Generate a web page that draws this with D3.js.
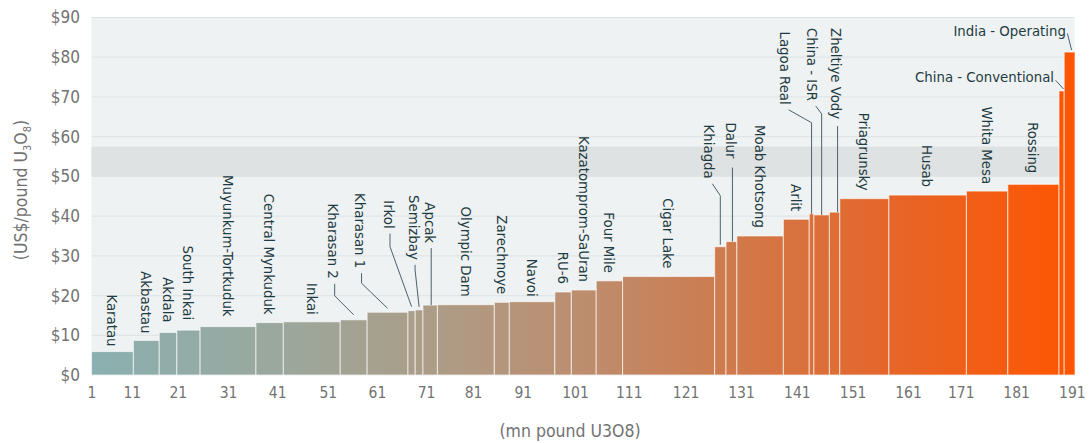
<!DOCTYPE html>
<html>
<head>
<meta charset="utf-8">
<script src="https://cdn.jsdelivr.net/npm/d3@7"></script>
<style>
  html, body { margin: 0; padding: 0; background: #ffffff; }
  svg { display: block; }
  text { font-family: "Liberation Sans Narrow", "DejaVu Sans Condensed", "Roboto", sans-serif; }
</style>
</head>
<body>
<svg id="chart" width="1092" height="443"></svg>
<script>
// ---------------- data ----------------
const mines = ["Karatau","Akbastau","Akdala","South Inkai","Muyunkum-Tortkuduk","Central Mynkuduk","Inkai",
  "Kharasan 2","Kharasan 1","Irkol","Semizbay","Apcak","Olympic Dam","Zarechnoye","Navoi","RU-6",
  "Kazatomprom-SaUran","Four Mile","Cigar Lake","Khiagda","Dalur","Moab Khotsong","Arlit","Lagoa Real",
  "China - ISR","Zheltiye Vody","Priagrunsky","Husab","Whita Mesa","Rossing","China - Conventional","India - Operating"];
// production (mn pound U3O8) = bar width
const production = [8.1,5.0,3.4,4.5,10.8,5.3,11.0,5.2,7.9,1.4,1.5,2.8,11.0,2.9,8.8,3.2,4.8,5.1,17.8,2.2,2.1,9.0,5.0,0.9,3.0,2.0,9.5,15.0,8.0,9.9,1.0,2.1];
// cost (US$/pound U3O8) = bar height
const cost = [5.9,8.7,10.7,11.3,12.2,13.2,13.4,13.9,15.8,16.2,16.4,17.6,17.7,18.3,18.45,20.9,21.4,23.7,24.8,32.3,33.6,35.0,39.2,40.6,40.3,41.0,44.4,45.3,46.3,48.0,71.5,81.3];
const yTicks = [0,10,20,30,40,50,60,70,80,90];
const xTickLabels = ["1","11","21","31","41","51","61","71","81","91","101","111","121","131","141","151","161","171","181","191"];
const xTickAt = [1,8.8,17.7,27.4,36.9,46.7,56.2,65.7,74.8,84.4,94.5,104.9,115.9,126.6,137.4,148.2,158.9,169.1,179.8,190.6];
const priceBand = [50, 57.5];
const xStart = 1;

// ---------------- layout ----------------
const plot = {left: 91.5, right: 1074.5, top: 17.5, bottom: 375};
const svg = d3.select("#chart");
const FONT = '"Liberation Sans Narrow", "DejaVu Sans Condensed", sans-serif';

const x = d3.scaleLinear().domain([1, 191]).range([plot.left, 1074]);
const y = d3.scaleLinear().domain([0, 90]).range([plot.bottom, plot.top]);

let cum = xStart;
const bars = mines.map((m, i) => {
  const d = {name: m, x0: cum, x1: cum + production[i], v: cost[i]};
  cum += production[i];
  return d;
});

const defs = svg.append("defs");
const grad = defs.append("linearGradient").attr("id", "barGrad")
  .attr("gradientUnits", "userSpaceOnUse")
  .attr("x1", plot.left).attr("x2", plot.right).attr("y1", 0).attr("y2", 0);
[[0,"#8ab0b1"],[0.2,"#9ca79c"],[0.35,"#ad9c86"],[0.5,"#bd8d6f"],[0.65,"#cf7a4c"],[0.8,"#e4672c"],[1,"#ff5500"]]
  .forEach(s => grad.append("stop").attr("offset", s[0]).attr("stop-color", s[1]));

svg.append("rect").attr("x", plot.left).attr("y", y(90)).attr("width", plot.right - plot.left)
  .attr("height", y(0) - y(90)).attr("fill", "#eef2f3");

svg.append("g").selectAll("line").data(yTicks).join("line")
  .attr("x1", plot.left).attr("x2", plot.right)
  .attr("y1", d => y(d)).attr("y2", d => y(d))
  .attr("stroke", d => d === 90 ? "#dde2e4" : "#e0e5e7").attr("stroke-width", 1.2);

svg.append("rect").attr("x", plot.left).attr("width", plot.right - plot.left)
  .attr("y", y(priceBand[1])).attr("height", y(priceBand[0]) - y(priceBand[1]))
  .attr("fill", "#dfe2e3");

svg.append("g").selectAll("rect").data(bars).join("rect")
  .attr("x", d => x(d.x0)).attr("width", d => x(d.x1) - x(d.x0))
  .attr("y", d => y(d.v)).attr("height", d => y(0) - y(d.v))
  .attr("fill", "url(#barGrad)")
  .attr("stroke", "rgba(255,255,255,0.6)").attr("stroke-width", 1.1);

const yAxis = d3.axisLeft(y).tickValues(yTicks).tickFormat(d => "$" + d).tickSize(0).tickPadding(0);
const gy = svg.append("g").attr("transform", `translate(80,0)`).call(yAxis);
gy.select(".domain").remove();
gy.selectAll("text").attr("font-size", 17).attr("fill", "#727272").style("font-family", FONT);

const xAxis = d3.axisBottom(x).tickValues(xTickAt).tickFormat((d, i) => xTickLabels[i]).tickSize(0).tickPadding(0);
const gx = svg.append("g").attr("transform", `translate(0,387)`).call(xAxis);
gx.select(".domain").remove();
gx.selectAll("text").attr("font-size", 15.5).attr("fill", "#727272").style("font-family", FONT);

svg.append("text").attr("x", 570).attr("y", 437).attr("text-anchor", "middle")
  .attr("font-size", 17.5).attr("fill", "#727272").text("(mn pound U3O8)");
const yt = svg.append("text").attr("transform", "translate(27,190) rotate(-90)")
  .attr("text-anchor", "middle").attr("font-size", 17.5).attr("fill", "#727272");
yt.append("tspan").text("(US$/pound U");
yt.append("tspan").attr("font-size", 11).attr("dy", 4).text("3");
yt.append("tspan").attr("dy", -4).text("O");
yt.append("tspan").attr("font-size", 11).attr("dy", 4).text("8");
yt.append("tspan").attr("dy", -4).text(")");

const labelLayout = {
  "Karatau": {gap: 5}, "Akbastau": {gap: 7}, "Akdala": {gap: 10}, "South Inkai": {gap: 10},
  "Muyunkum-Tortkuduk": {gap: 10}, "Central Mynkuduk": {gap: 8}, "Inkai": {gap: 7},
  "Kharasan 2": {dx: -20, gap: 41, leader: "v", elbow: 12, end: 5},
  "Kharasan 1": {dx: -27, gap: 44, leader: "v", elbow: 10, end: 4},
  "Irkol": {dx: -22.6, gap: 82, leader: "v", elbow: 13, end: 4},
  "Semizbay": {dx: -5, gap: 50, leader: "v", elbow: 5, end: 3},
  "Apcak": {dx: 0, gap: 62, leader: "s"},
  "Navoi": {gap: 5}, "Rossing": {gap: 11}, "Whita Mesa": {gap: 7},
  "Khiagda": {dx: -11, gap: 68, leader: "d", elbow: 12, end: 2},
  "Dalur": {dx: 0, gap: 83, leader: "s", start: 9},
  "Lagoa Real": {dx: -26, gap: 109, leader: "d", elbow: 13, end: 0},
  "China - ISR": {dx: -9, gap: 114, leader: "d", elbow: 8, end: 0},
  "Zheltiye Vody": {dx: 2, gap: 93, leader: "s", start: 7},
  "China - Conventional": {horizontal: true, dx: -7.5, lift: 13.7},
  "India - Operating": {horizontal: true, dx: -3.7, lift: 21.6}
};
const labelColor = "#1f3b41", leaderColor = "#4a6369", LFS = 14.8;
const gl = svg.append("g");
bars.forEach(b => {
  const L = labelLayout[b.name] || {};
  const bx = (x(b.x0) + x(b.x1)) / 2;
  const top = y(b.v);
  if (L.horizontal) {
    const tx = bx + L.dx, ty = top - L.lift;
    gl.append("text").attr("x", tx).attr("y", ty).attr("dy", "0.35em").attr("text-anchor", "end")
      .attr("font-size", LFS).attr("fill", labelColor).text(b.name);
    gl.append("path").attr("d", d3.line()([[tx + 1.5, ty + 3], [bx + 2, top - 2]]))
      .attr("fill", "none").attr("stroke", leaderColor).attr("stroke-width", 1);
    return;
  }
  const gap = L.gap != null ? L.gap : 8;
  const lx = bx + (L.dx || 0);
  const lb = top - gap;
  gl.append("text").attr("transform", `translate(${lx},${lb}) rotate(90)`)
    .attr("text-anchor", "end").attr("dy", "0.35em")
    .attr("font-size", LFS).attr("fill", labelColor).text(b.name);
  if (L.leader) {
    const sy = lb + (L.start || 5);
    let pts;
    if (L.leader === "v") pts = [[lx + 1, sy], [lx + 1, sy + L.elbow], [bx, top - L.end]];
    else if (L.leader === "d") pts = [[lx + 3, sy], [bx, sy + L.elbow], [bx, top - L.end]];
    else pts = [[lx + 1, sy], [lx + 1, top]];
    gl.append("path").attr("d", d3.line()(pts)).attr("fill", "none")
      .attr("stroke", leaderColor).attr("stroke-width", 1);
  }
});
</script>
</body>
</html>
